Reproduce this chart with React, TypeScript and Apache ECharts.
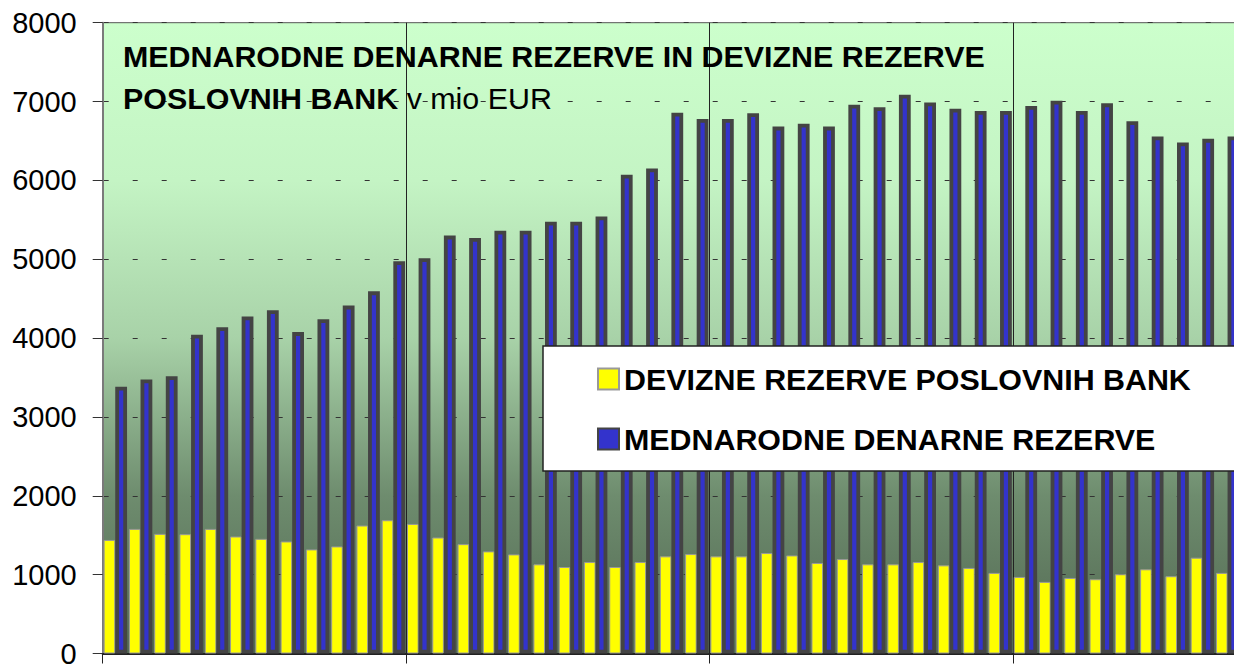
import React, { useEffect, useRef } from "react";
import * as echarts from "echarts";

const categories: string[] = Array.from({ length: 45 }, (_, i) => String(i + 1));
const deviznePoslovnih: number[] = [
  1440, 1580, 1517, 1513, 1580, 1484, 1454, 1421, 1320, 1358, 1623, 1690,
  1643, 1471, 1387, 1295, 1257, 1131, 1097, 1160, 1097, 1160, 1232, 1261,
  1232, 1232, 1274, 1244, 1148, 1198, 1131, 1131, 1160, 1118, 1085, 1022,
  971, 908, 958, 942, 1005, 1068, 980, 1215, 1022,
];
const mednarodne: number[] = [
  3383, 3475, 3516, 4042, 4139, 4273, 4354, 4076, 4240, 4412, 4593, 4975,
  5013, 5300, 5269, 5363, 5363, 5476, 5476, 5543, 6073, 6152, 6858, 6779,
  6779, 6851, 6682, 6720, 6682, 6959, 6927, 7086, 6989, 6909, 6880, 6880,
  6943, 7010, 6880, 6977, 6750, 6556, 6480, 6527, 6556,
];
const seriesNames = ["DEVIZNE REZERVE POSLOVNIH BANK", "MEDNARODNE DENARNE REZERVE"];
const titleLine1 = "MEDNARODNE DENARNE REZERVE IN DEVIZNE REZERVE";
const titleLine2 = "POSLOVNIH BANK";
const unitText = " v mio EUR";

const FONT = "'Liberation Sans', Arial, Helvetica, sans-serif";

export default function App() {
  const ref = useRef<HTMLDivElement>(null);
  useEffect(() => {
    if (!ref.current) return;
    const chart = echarts.init(ref.current, undefined, { renderer: "svg" });
    chart.setOption({
      animation: false,
      backgroundColor: "#ffffff",
      textStyle: { fontFamily: FONT },
      title: {
        left: 123,
        top: 35.5,
        padding: 0,
        text: `${titleLine1}\n${titleLine2}{n|${unitText}}`,
        textStyle: {
          fontFamily: FONT,
          fontSize: 30.4,
          fontWeight: "bold",
          color: "#000",
          lineHeight: 41.5,
          rich: {
            n: { fontFamily: FONT, fontSize: 30.4, fontWeight: "normal", color: "#000", lineHeight: 41.5 },
          },
        },
      },
      legend: {
        orient: "vertical",
        left: 543,
        top: 346,
        padding: [18, 60, 17, 54],
        itemGap: 30,
        itemWidth: 21,
        itemHeight: 21,
        icon: "rect",
        backgroundColor: "#ffffff",
        borderColor: "#222",
        borderWidth: 1.5,
        borderRadius: 0,
        textStyle: { fontFamily: FONT, fontSize: 30.4, fontWeight: "bold", color: "#000", lineHeight: 30 },
        data: seriesNames,
      },
      grid: {
        left: 102.7,
        top: 22.7,
        width: 1137.6,
        height: 634.3,
        show: true,
        borderColor: "#555",
        borderWidth: 1,
        backgroundColor: new echarts.graphic.LinearGradient(0, 0, 0, 1, [
          { offset: 0, color: "#ccffcc" },
          { offset: 0.25, color: "#c4f4c4" },
          { offset: 0.5, color: "#a8d2a8" },
          { offset: 0.75, color: "#6e8c6e" },
          { offset: 1, color: "#526852" },
        ]),
      },
      xAxis: {
        type: "category",
        data: categories,
        boundaryGap: true,
        axisLine: { show: true, lineStyle: { color: "#222", width: 2 } },
        axisTick: { show: true, interval: 11, length: 10, lineStyle: { color: "#222", width: 1 } },
        axisLabel: { show: false, interval: 11 },
        splitLine: { show: true, interval: 11, lineStyle: { color: "#222", width: 1, type: "solid" } },
      },
      yAxis: {
        type: "value",
        min: 0,
        max: 8000,
        interval: 1000,
        axisLine: { show: true, lineStyle: { color: "#7a7a7a", width: 2 } },
        axisTick: { show: true, length: 10, lineStyle: { color: "#333", width: 1 } },
        axisLabel: {
          margin: 26,
          fontSize: 29,
          color: "#000",
          fontFamily: FONT,
          formatter: (v: number) => String(v),
        },
        splitLine: {
          show: true,
          lineStyle: { color: "#333", width: 1, type: [5, 24], dashOffset: 28 },
        },
      },
      series: [
        {
          name: seriesNames[0],
          type: "bar",
          data: deviznePoslovnih,
          barWidth: 11.6,
          barGap: 0,
          barCategoryGap: 0,
          itemStyle: { color: "#ffff00", borderColor: "#999999", borderWidth: 1 },
        },
        {
          name: seriesNames[1],
          type: "bar",
          data: mednarodne,
          barWidth: 11.8,
          barGap: 0,
          barCategoryGap: 0,
          itemStyle: { color: "#3333cc", borderColor: "#444444", borderWidth: 3.8 },
        },
      ],
    });
    return () => chart.dispose();
  }, []);
  return (
    <div
      ref={ref}
      style={{ position: "fixed", left: 0, top: 0, width: 1300, height: 668 }}
    />
  );
}
